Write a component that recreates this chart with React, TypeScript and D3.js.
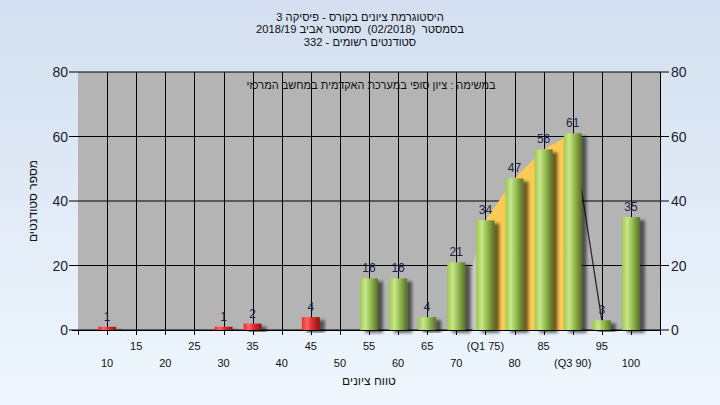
import * as d3 from 'd3';

// histogram bins (grade range start) and number of students per bin
const grades = [10, 15, 20, 25, 30, 35, 40, 45, 50, 55, 60, 65, 70, 75, 80, 85, 90, 95, 100];
const counts = [1, 0, 0, 0, 1, 2, 0, 4, 0, 16, 16, 4, 21, 34, 47, 56, 61, 3, 35];
const tickLabels = ['10', '15', '20', '25', '30', '35', '40', '45', '50', '55', '60', '65', '70', '(Q1 75)', '80', '85', '(Q3 90)', '95', '100'];
const yTicks = [0, 20, 40, 60, 80];
const passGrade = 55;

// quartile band (Q1..Q3) drawn behind the bars, and the tail line after Q3
const bandGrades = [72.8, 75, 80, 85, 90];
const bandValues = [20, 34, 47, 56, 61];
const tailGrades = [90, 95];
const tailValues = [61, 3];

const titleLines = [
  'היסטוגרמת ציונים בקורס - פיסיקה 3',
  'בסמסטר  (02/2018)  סמסטר אביב 2018/19',
  'סטודנטים רשומים - 332',
];
const note = 'במשימה : ציון סופי במערכת האקדמית במחשב המרכזי';
const xTitle = 'טווח ציונים';
const yTitle = 'מספר סטודנטים';

const W = 720;
const H = 405;
const plot = { left: 78, right: 660, top: 72, bottom: 330 };
const font = '"Liberation Sans", Arial, "DejaVu Sans", sans-serif';

export default function App() {
  const x = d3.scaleLinear().domain([5, 105]).range([plot.left, plot.right]);
  const y = d3.scaleLinear().domain([0, 80]).range([plot.bottom, plot.top]);
  const barW = 18;

  const area = d3.area<[number, number]>()
    .x(d => x(d[0]))
    .y0(y(0))
    .y1(d => y(d[1]));
  const line = d3.line<[number, number]>()
    .x(d => x(d[0]))
    .y(d => y(d[1]));

  const bandPts: [number, number][] = bandGrades.map((g, i) => [g, bandValues[i]]);
  const tailPts: [number, number][] = tailGrades.map((g, i) => [g, tailValues[i]]);

  return (
    <div style={{ position: 'fixed', left: 0, top: 0 }}>
      <svg width={W} height={H} style={{ display: 'block', fontFamily: font }}>
        <defs>
          <linearGradient id="bg" x1="0" x2="0" y1="0" y2="1">
            <stop offset="0%" stopColor="#d3dff0" />
            <stop offset="100%" stopColor="#eff6fd" />
          </linearGradient>
          <linearGradient id="green" x1="0" x2="1" y1="0" y2="0">
            <stop offset="0%" stopColor="#9ccb48" />
            <stop offset="30%" stopColor="#c9e690" />
            <stop offset="55%" stopColor="#9cc455" />
            <stop offset="100%" stopColor="#566f28" />
          </linearGradient>
          <linearGradient id="red" x1="0" x2="1" y1="0" y2="0">
            <stop offset="0%" stopColor="#f52828" />
            <stop offset="30%" stopColor="#ff6464" />
            <stop offset="55%" stopColor="#e03030" />
            <stop offset="100%" stopColor="#8e1414" />
          </linearGradient>
          <filter id="shadow" x="-20%" y="-10%" width="160%" height="130%">
            <feDropShadow dx="5" dy="3" stdDeviation="1.6" floodColor="#000" floodOpacity="0.55" />
          </filter>
        </defs>

        <rect width={W} height={H} fill="url(#bg)" />
        <rect x={plot.left} y={plot.top} width={plot.right - plot.left} height={plot.bottom - plot.top} fill="#b4b4b4" />

        {/* grid */}
        {yTicks.map(t => (
          <line key={'h' + t} x1={plot.left} x2={plot.right} y1={y(t)} y2={y(t)} stroke="#000" />
        ))}
        {grades.map(g => (
          <line key={'v' + g} x1={Math.round(x(g)) + 0.5} x2={Math.round(x(g)) + 0.5} y1={plot.top} y2={plot.bottom} stroke="#000" />
        ))}

        {/* quartile band */}
        <path d={area(bandPts.slice(0, 2)) || ''} fill="#c6c6c6" />
        <path d={area(bandPts.slice(1)) || ''} fill="#ffc955" />
        <path d={line(tailPts) || ''} fill="none" stroke="#2a2a2a" strokeWidth={1.3} />

        {/* bars */}
        {grades.map((g, i) => counts[i] > 0 && (
          <rect
            key={'b' + g}
            x={x(g) - barW / 2}
            y={y(counts[i])}
            width={barW}
            height={y(0) - y(counts[i])}
            fill={g < passGrade ? 'url(#red)' : 'url(#green)'}
            filter="url(#shadow)"
          />
        ))}
        {grades.map((g, i) => counts[i] > 0 && (
          <text key={'l' + g} x={x(g)} y={y(counts[i]) - 6} textAnchor="middle" fontSize={12} fill="#1b2540">
            {counts[i]}
          </text>
        ))}

        {/* axes */}
        <line x1={plot.left - 6} x2={plot.right} y1={plot.bottom + 0.5} y2={plot.bottom + 0.5} stroke="#000" />
        <line x1={plot.right + 0.5} x2={plot.right + 0.5} y1={plot.top} y2={plot.bottom} stroke="#000" />
        {[5, ...grades, 105].map(g => (
          <line key={'t' + g} x1={Math.round(x(g)) + 0.5} x2={Math.round(x(g)) + 0.5} y1={plot.bottom} y2={plot.bottom + 5} stroke="#000" />
        ))}
        {yTicks.map(t => (
          <g key={'yt' + t}>
            <line x1={plot.left - 9} x2={plot.left} y1={y(t)} y2={y(t)} stroke="#000" />
            <line x1={plot.right} x2={plot.right + 9} y1={y(t)} y2={y(t)} stroke="#000" />
            <text x={plot.left - 10} y={y(t) + 5} textAnchor="end" fontSize={14} fill="#1b1b2e">{t}</text>
            <text x={plot.right + 11} y={y(t) + 5} textAnchor="start" fontSize={14} fill="#1b1b2e">{t}</text>
          </g>
        ))}
        {grades.map((g, i) => (
          <text key={'xl' + g} x={x(g)} y={i % 2 === 1 ? 350 : 367} textAnchor="middle" fontSize={11} fill="#111">
            {tickLabels[i]}
          </text>
        ))}

        {/* titles */}
        {titleLines.map((t, i) => (
          <text key={'ti' + i} x={W / 2} y={20.5 + i * 12.5} textAnchor="middle" direction="rtl" fontSize={11.2}
            fill="#111" style={{ whiteSpace: 'pre' }}>
            {t}
          </text>
        ))}
        <text x={371} y={89} textAnchor="middle" direction="rtl" fontSize={11} fill="#111">{note}</text>
        <text x={(plot.left + plot.right) / 2} y={385} textAnchor="middle" direction="rtl" fontSize={12} fill="#111">{xTitle}</text>
        <text transform={`translate(37,${(plot.top + plot.bottom) / 2}) rotate(-90)`} textAnchor="middle" direction="rtl" fontSize={12} fill="#111">{yTitle}</text>
      </svg>
    </div>
  );
}
